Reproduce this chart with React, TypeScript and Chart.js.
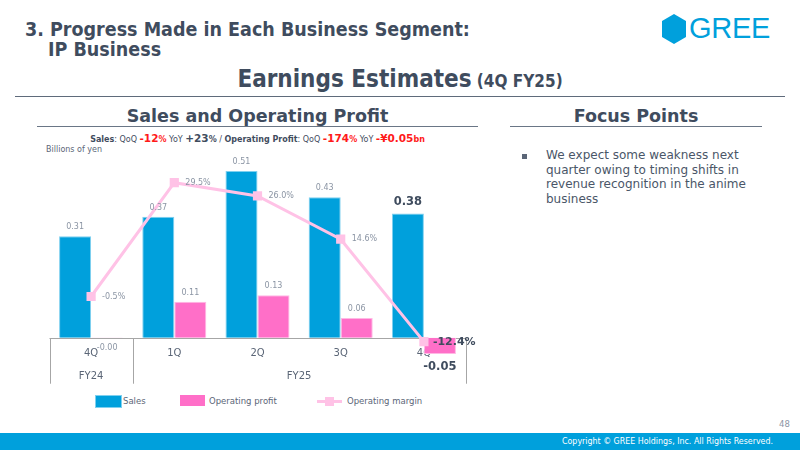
import React, { useEffect, useRef } from "react";
import { Chart, registerables } from "chart.js";

Chart.register(...registerables);

const categories = ["4Q", "1Q", "2Q", "3Q", "4Q"];
const fiscalGroups = ["FY24", "FY25"];
const groupSpans = [1, 4];
const sales = [0.31, 0.37, 0.51, 0.43, 0.38];
const operatingProfit = [-0.001, 0.11, 0.13, 0.06, -0.05];
const operatingMargin = [-0.5, 29.5, 26.0, 14.6, -12.4];
const highlightIndex = 4;

const BLUE = "#00a0dc";
const PINK = "#ff6fc8";
const LIGHTPINK = "#ffc2e6";
const DARK = "#3f4c5e";
const GRAY = "#8b95a4";
const AXISTXT = "#5b6677";
const FONT = "'DejaVu Sans', Verdana, sans-serif";

const labelPlugin = {
  id: "customLabels",
  beforeDatasetsDraw(chart: any) {
    const { ctx, chartArea, scales } = chart;
    const x = scales.x;
    const y0 = scales.y.getPixelForValue(0);
    ctx.save();
    ctx.strokeStyle = "#a6a6a6";
    ctx.lineWidth = 1;
    ctx.beginPath();
    ctx.moveTo(chartArea.left, Math.round(y0) + 0.5);
    ctx.lineTo(chartArea.right, Math.round(y0) + 0.5);
    const half = (x.getPixelForValue(1) - x.getPixelForValue(0)) / 2;
    let idx = 0;
    const bounds = [chartArea.left];
    groupSpans.forEach((s) => {
      idx += s;
      bounds.push(x.getPixelForValue(idx - 1) + half);
    });
    bounds.forEach((b) => {
      const bx = Math.round(b) + 0.5;
      ctx.moveTo(bx, Math.round(y0) + 0.5);
      ctx.lineTo(bx, y0 + 46);
    });
    ctx.stroke();
    ctx.fillStyle = AXISTXT;
    ctx.font = `10px ${FONT}`;
    ctx.textAlign = "center";
    ctx.textBaseline = "middle";
    categories.forEach((c, i) => {
      ctx.fillText(c, x.getPixelForValue(i), y0 + 16);
    });
    let start = 0;
    fiscalGroups.forEach((g, gi) => {
      const end = start + groupSpans[gi] - 1;
      const cx = (x.getPixelForValue(start) + x.getPixelForValue(end)) / 2;
      ctx.fillText(g, cx, y0 + 39);
      start = end + 1;
    });
    ctx.restore();
  },
  afterDatasetsDraw(chart: any) {
    const { ctx } = chart;
    ctx.save();
    ctx.textAlign = "center";
    ctx.textBaseline = "middle";
    const m0 = chart.getDatasetMeta(0);
    m0.data.forEach((el: any, i: number) => {
      const v = sales[i];
      if (i === highlightIndex) {
        ctx.font = `bold 11.5px ${FONT}`;
        ctx.fillStyle = DARK;
        ctx.fillText(v.toFixed(2), el.x, el.y - 11);
      } else {
        ctx.font = `8px ${FONT}`;
        ctx.fillStyle = GRAY;
        ctx.fillText(v.toFixed(2), el.x, el.y - 9);
      }
    });
    const m1 = chart.getDatasetMeta(1);
    m1.data.forEach((el: any, i: number) => {
      const v = operatingProfit[i];
      const txt = v.toFixed(2);
      if (i === highlightIndex) {
        ctx.font = `bold 11.5px ${FONT}`;
        ctx.fillStyle = DARK;
        ctx.fillText(txt, el.x, el.y + 13);
      } else if (v < 0) {
        ctx.font = `8px ${FONT}`;
        ctx.fillStyle = GRAY;
        ctx.fillText(txt, el.x, el.y + 10);
      } else {
        ctx.font = `8px ${FONT}`;
        ctx.fillStyle = GRAY;
        ctx.fillText(txt, el.x, el.y - 9);
      }
    });
    const m2 = chart.getDatasetMeta(2);
    ctx.textAlign = "left";
    m2.data.forEach((el: any, i: number) => {
      const v = operatingMargin[i];
      const txt = v.toFixed(1) + "%";
      if (i === highlightIndex) {
        ctx.font = `bold 11px ${FONT}`;
        ctx.fillStyle = DARK;
        ctx.fillText(txt, el.x + 9, el.y);
      } else {
        ctx.font = `8px ${FONT}`;
        ctx.fillStyle = GRAY;
        ctx.fillText(txt, el.x + 11, el.y);
      }
    });
    ctx.restore();
  },
};

function ChartBox() {
  const ref = useRef<HTMLCanvasElement | null>(null);
  useEffect(() => {
    if (!ref.current) return;
    const chart = new Chart(ref.current, {
      type: "bar",
      data: {
        labels: categories,
        datasets: [
          {
            label: "Sales",
            data: sales,
            yAxisID: "y",
            backgroundColor: BLUE,
            borderColor: "#7fd0ef",
            borderWidth: { top: 1, left: 1, right: 1, bottom: 0 },
            borderSkipped: "bottom",
            barPercentage: 1,
            categoryPercentage: 0.77,
            order: 1,
          } as any,
          {
            label: "Operating profit",
            data: operatingProfit,
            yAxisID: "y",
            backgroundColor: PINK,
            borderColor: "#ffb8e4",
            borderWidth: 1,
            borderSkipped: "start",
            barPercentage: 1,
            categoryPercentage: 0.77,
            order: 1,
          },
          {
            type: "line",
            label: "Operating margin",
            data: operatingMargin,
            yAxisID: "y2",
            borderColor: LIGHTPINK,
            backgroundColor: LIGHTPINK,
            borderWidth: 3,
            pointStyle: "rect",
            pointRadius: 6.5,
            pointBackgroundColor: LIGHTPINK,
            pointBorderColor: LIGHTPINK,
            pointBorderWidth: 0,
            tension: 0,
            order: 0,
          } as any,
        ],
      },
      options: {
        animation: false,
        responsive: false,
        maintainAspectRatio: false,
        layout: { padding: { left: 19.5, right: 24.5, top: 7.9, bottom: 6.15 } },
        plugins: { legend: { display: false }, tooltip: { enabled: false } },
        scales: {
          x: { display: false, offset: true, grid: { display: false } },
          y: { display: false, min: -0.14, max: 0.55 },
          y2: { display: false, min: -23.43, max: 36.03, position: "right" },
        },
      },
      plugins: [labelPlugin],
    });
    return () => chart.destroy();
  }, []);
  return (
    <canvas
      ref={ref}
      width={460}
      height={240}
      style={{ position: "absolute", left: 30, top: 150, width: 460, height: 240 }}
    />
  );
}

const abs = (o: React.CSSProperties): React.CSSProperties => ({ position: "absolute", whiteSpace: "nowrap", lineHeight: 1, ...o });
const TITLE_FONT = "'DejaVu Sans', Tahoma, sans-serif";

export default function App() {
  const red = "#ff1a1a";
  const big = { fontSize: 10.5, fontWeight: "bold" as const };
  return (
    <div style={{ position: "fixed", left: 0, top: 0, width: 800, height: 450, background: "#fff", overflow: "hidden", fontFamily: FONT, color: DARK }}>
      <div style={abs({ left: 25, top: 20, fontSize: 19.5, fontWeight: "bold", fontFamily: TITLE_FONT, fontStretch: "condensed" })}>
        3. Progress Made in Each Business Segment:
      </div>
      <div style={abs({ left: 48, top: 40, fontSize: 19.5, fontWeight: "bold", fontFamily: TITLE_FONT, fontStretch: "condensed" })}>
        IP Business
      </div>
      <svg style={{ position: "absolute", left: 662, top: 14 }} width={24} height={30} viewBox="0 0 24 30">
        <polygon points="12,0 24,7 24,23 12,30 0,23 0,7" fill={BLUE} />
      </svg>
      <div style={abs({ left: 689, top: 14, fontSize: 29, fontFamily: "'Liberation Sans', Arial, sans-serif", color: BLUE, letterSpacing: -0.3 })}>GREE</div>

      <div style={abs({ left: 0, width: 800, top: 67, textAlign: "center", fontFamily: TITLE_FONT, fontStretch: "condensed", fontWeight: "bold" })}>
        <span style={{ fontSize: 24 }}>Earnings Estimates</span>
        <span style={{ fontSize: 17 }}> (4Q FY25)</span>
      </div>
      <div style={{ position: "absolute", left: 15, top: 96, width: 770, height: 0, borderTop: "1.5px solid #5f6b7b" }} />

      <div style={abs({ left: 37, width: 441, top: 108, textAlign: "center", fontSize: 17.5, fontWeight: "bold" })}>Sales and Operating Profit</div>
      <div style={{ position: "absolute", left: 37, top: 126, width: 441, height: 0, borderTop: "1.5px solid #6a7686" }} />
      <div style={abs({ left: 510, width: 252, top: 108, textAlign: "center", fontSize: 17.5, fontWeight: "bold" })}>Focus Points</div>
      <div style={{ position: "absolute", left: 510, top: 126, width: 252, height: 0, borderTop: "1.5px solid #6a7686" }} />

      <div style={abs({ left: 37, width: 441, top: 133, textAlign: "center", fontSize: 8, color: DARK })}>
        <b>Sales</b>: QoQ <span style={{ color: red, fontWeight: "bold" }}><span style={big}>-12</span>%</span> YoY{" "}
        <b><span style={big}>+23</span>%</b> / <b>Operating Profit</b>: QoQ{" "}
        <span style={{ color: red, fontWeight: "bold" }}><span style={big}>-174</span>%</span> YoY{" "}
        <span style={{ color: red, fontWeight: "bold" }}><span style={big}>-¥0.05</span>bn</span>
      </div>
      <div style={abs({ left: 46, top: 146, fontSize: 8, color: AXISTXT })}>Billions of yen</div>

      <ChartBox />

      <div style={{ position: "absolute", left: 95, top: 395, width: 25, height: 11, background: BLUE, border: "0.5px solid #7fd0ef" }} />
      <div style={abs({ left: 123, top: 397, fontSize: 8.5, color: AXISTXT })}>Sales</div>
      <div style={{ position: "absolute", left: 180, top: 395, width: 25, height: 11, background: PINK }} />
      <div style={abs({ left: 209, top: 397, fontSize: 8.5, color: AXISTXT })}>Operating profit</div>
      <div style={{ position: "absolute", left: 317, top: 400, width: 25, height: 3, background: LIGHTPINK }} />
      <div style={{ position: "absolute", left: 325, top: 397, width: 9, height: 9, background: LIGHTPINK }} />
      <div style={abs({ left: 347, top: 397, fontSize: 8.5, color: AXISTXT })}>Operating margin</div>

      <div style={{ position: "absolute", left: 522, top: 154, width: 5, height: 5, background: "#5b6677" }} />
      <div style={{ position: "absolute", left: 546, top: 148, width: 230, fontSize: 12, lineHeight: "14.7px", color: "#4a5668" }}>
        We expect some weakness next<br />quarter owing to timing shifts in<br />revenue recognition in the anime<br />business
      </div>

      <div style={abs({ left: 779, top: 420, fontSize: 8.5, color: "#8b95a4" })}>48</div>
      <div style={{ position: "absolute", left: 0, top: 433, width: 800, height: 17, background: BLUE }} />
      <div style={abs({ right: 27, top: 437, fontSize: 8.8, color: "#fff", fontFamily: TITLE_FONT, fontStretch: "condensed" })}>
        Copyright © GREE Holdings, Inc. All Rights Reserved.
      </div>
    </div>
  );
}
